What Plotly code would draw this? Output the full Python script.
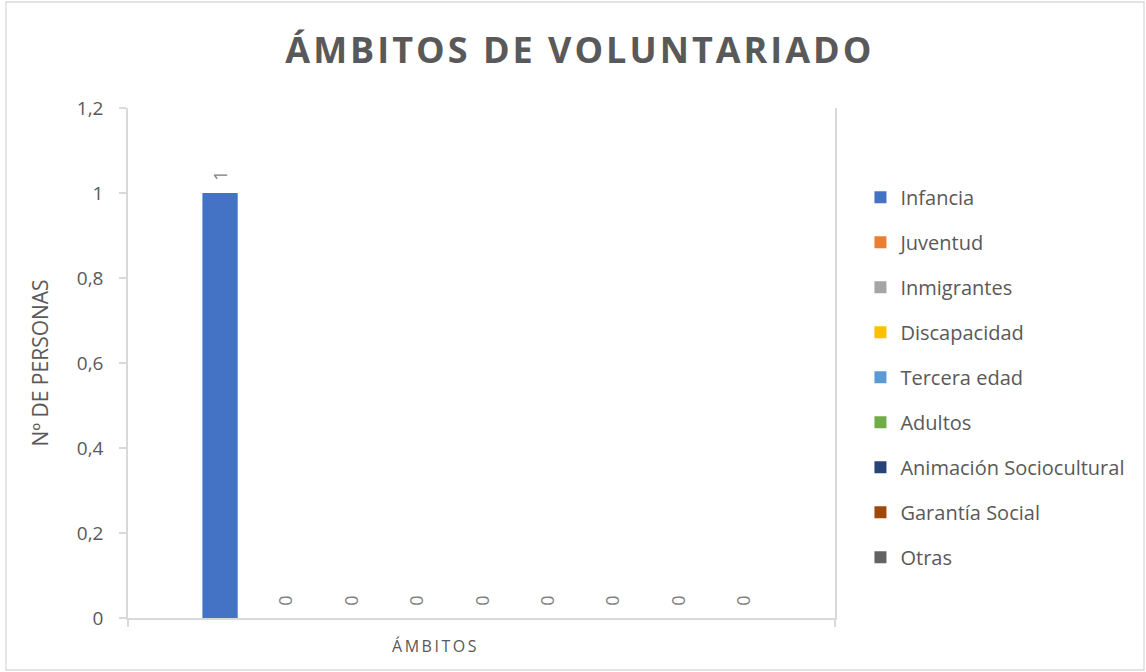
import plotly.graph_objects as go

# ámbitos de voluntariado (one category, one series per ámbito)
categoria = ["ÁMBITOS"]
series = ["Infancia", "Juventud", "Inmigrantes", "Discapacidad", "Tercera edad",
          "Adultos", "Animación Sociocultural", "Garantía Social", "Otras"]
valores = [1, 0, 0, 0, 0, 0, 0, 0, 0]
colores = ["#4472C4", "#ED7D31", "#A5A5A5", "#FFC000", "#5B9BD5",
           "#70AD47", "#264478", "#9E480E", "#636363"]

W, H = 1146, 672
L, R, T, B = 128, 311, 108, 54
gris = "#595959"
linea = "#D9D9D9"

fig = go.Figure()
for nombre, v, c in zip(series, valores, colores):
    fig.add_trace(go.Bar(
        x=categoria, y=[v], name=nombre, marker_color=c, marker_line_width=0,
        # nbsp padding keeps the rotated label a bit off the bar end, as in Excel
        text=["\u00a0\u00a0" + str(v)], textposition="outside", textangle=-90,
        constraintext="none", textfont=dict(size=18, color="#7F7F7F"),
        cliponaxis=False, legendgroup=nombre, hoverinfo="name+y",
    ))

# chart border (Excel chart area outline)
pw, ph = W - L - R, H - T - B
fig.add_shape(type="rect", xref="paper", yref="paper",
              x0=(6 - L) / pw, x1=(1144 - L) / pw,
              y0=(H - B - 670) / ph, y1=(H - B - 2) / ph,
              line=dict(color=linea, width=1.3), layer="below")

fig.update_layout(
    width=W, height=H,
    margin=dict(l=L, r=R, t=T, b=B),
    paper_bgcolor="white", plot_bgcolor="white",
    separators=",.",
    barmode="group", bargap=0.168, bargroupgap=0.46,
    font=dict(family="Open Sans", color=gris),
    title=dict(text="<b>ÁMBITOS DE VOLUNTARIADO</b>", x=0.506, xanchor="center",
               y=1 - 50 / H, yanchor="middle",
               font=dict(size=36, color=gris, family="Open Sans")),
    legend=dict(x=1.036, xanchor="left", y=0.472, yanchor="middle",
                font=dict(size=20, color=gris, family="Open Sans"),
                tracegroupgap=16, bgcolor="rgba(0,0,0,0)"),
    showlegend=True,
)
fig.update_xaxes(
    showline=True, linecolor=linea, linewidth=1.5, mirror=False,
    ticks="outside", tickson="boundaries", ticklen=7, tickcolor=linea, tickwidth=1.5,
    tickfont=dict(size=16, color=gris, family="Open Sans"),
    ticklabelstandoff=13, ticklabelshift=-46,
    showgrid=False,
)
fig.update_yaxes(
    range=[0, 1.2], dtick=0.2, tickformat=".1~f",
    showline=True, linecolor=linea, linewidth=1.5, mirror=True,
    ticks="outside", ticklen=7, tickcolor=linea, tickwidth=1.5,
    tickfont=dict(size=19, color=gris, family="Open Sans"), ticklabelstandoff=12,
    showgrid=False, zeroline=False,
    title=dict(text="Nº DE PERSONAS", standoff=22,
               font=dict(size=21, color=gris, family="Open Sans")),
)

# page without body margin, plus Excel-like letter spacing on title / category label
post = """
document.body.style.margin = '0';
var t = document.querySelector('.gtitle'); if (t) t.style.letterSpacing = '3px';
document.querySelectorAll('.xtick text').forEach(function(e){ e.style.letterSpacing = '2.5px'; });
"""
fig.write_html("out.html", post_script=post, config={"displayModeBar": False})
